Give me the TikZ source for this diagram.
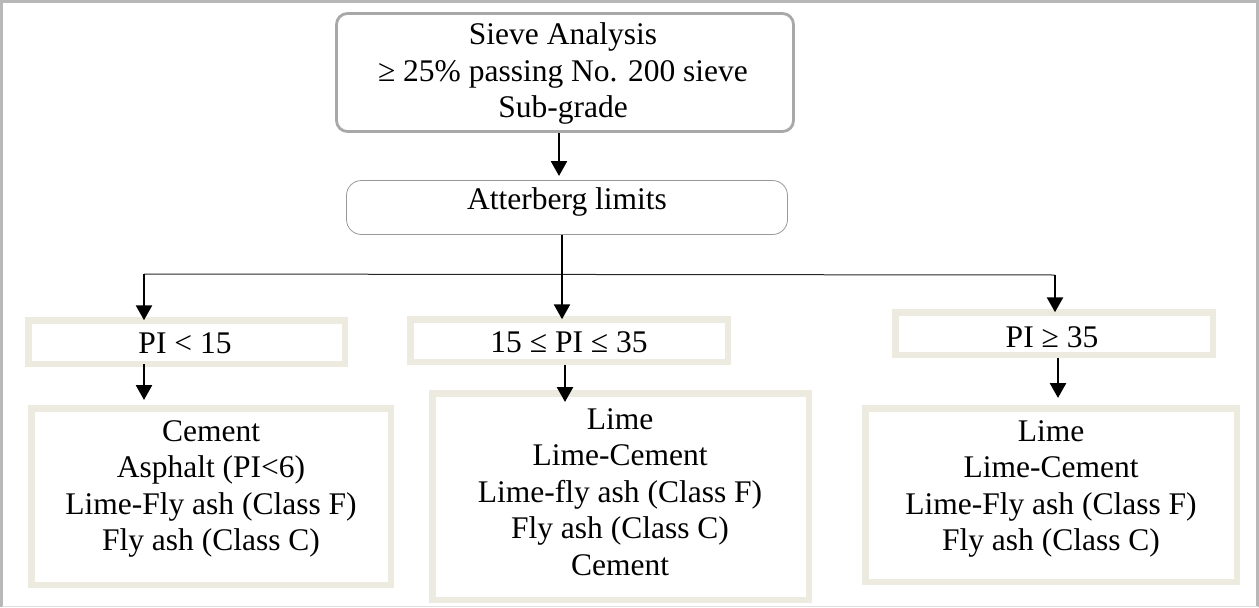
\documentclass[tikz,border=0pt]{standalone}
\usepackage{fontspec}
\setmainfont{Liberation Serif}
\usetikzlibrary{arrows.meta}
\definecolor{beige}{HTML}{EDEADF}
\definecolor{framegray}{HTML}{B8B8B8}
\definecolor{boxgray}{HTML}{A8A8A8}
\begin{document}
\begin{tikzpicture}[x=1pt,y=-1pt,
  every node/.style={font=\fontsize{31.5}{36.5}\selectfont, inner sep=0pt, outer sep=0pt},
  beigebox/.style={draw=beige, line width=6.5pt, fill=white},
  sievebox/.style={draw=boxgray, line width=2.8pt, rounded corners=11pt, fill=white},
  attbox/.style={draw=gray!80, line width=0.8pt, rounded corners=15pt, fill=white},
  txt/.style={align=center},
  arr/.style={line width=2.6pt, -{Triangle[width=16pt,length=15pt]}},
  thinline/.style={line width=1pt, draw=black!85}]
\useasboundingbox (0,0) rectangle (1259,608);
% outer frame
\draw[framegray, line width=2.5pt] (1.5,606.5) -- (1.5,1.5) -- (1257.5,1.5) -- (1257.5,606.5);
\draw[gray!25, line width=1pt] (1.5,606.5) -- (1257.5,606.5);
% boxes
\node[sievebox, minimum width=457pt, minimum height=118pt] (sieve) at (565,72.5) {};
\node[attbox, minimum width=441pt, minimum height=54pt] (att) at (567,207.5) {};
\node[beigebox, minimum width=316.5pt, minimum height=43.5pt] (pi1) at (186.5,342) {};
\node[beigebox, minimum width=317.5pt, minimum height=42.5pt] (pi2) at (569,340.5) {};
\node[beigebox, minimum width=317.5pt, minimum height=42.5pt] (pi3) at (1054,333.5) {};
\node[beigebox, minimum width=359.5pt, minimum height=176.5pt] (b1) at (211,496.5) {};
\node[beigebox, minimum width=376.5pt, minimum height=206.5pt] (b2) at (620.5,496.5) {};
\node[beigebox, minimum width=371.5pt, minimum height=173.5pt] (b3) at (1051,495) {};
% texts
\node[txt] (tsieve) at (563,73.5) {Sieve Analysis\\≥ 25\% passing No. 200 sieve\\Sub-grade};
\node[txt] (tatt) at (567,202) {Atterberg limits};
\node[txt] (tpi1) at (185,343) {PI < 15};
\node[txt] (tpi2) at (569,342) {15 ≤ PI ≤ 35};
\node[txt] (tpi3) at (1052,337) {PI ≥ 35};
\node[txt] (tb1) at (211,489) {Cement\\Asphalt (PI<6)\\Lime-Fly ash (Class F)\\Fly ash (Class C)};
\node[txt] (tb2) at (620,492) {Lime\\Lime-Cement\\Lime-fly ash (Class F)\\Fly ash (Class C)\\Cement};
\node[txt] (tb3) at (1051,489) {Lime\\Lime-Cement\\Lime-Fly ash (Class F)\\Fly ash (Class C)};
% connectors
\coordinate (s1) at (559,133);
\coordinate (a1) at (559,176);
\coordinate (j) at (562,274);
\coordinate (jl) at (144,274);
\coordinate (jr) at (1055,275);
\coordinate (l1) at (144,400);
\coordinate (m1) at (565,365);
\coordinate (m2) at (565,402);
\coordinate (r1) at (1058,358);
\coordinate (r2) at (1058,398);
\draw[arr] (s1) -- (a1);
\draw[thinline] (jl) -- (jr);
\draw[arr] (j |- att.south) -- (j |- pi2.north);
\draw[arr] (jl) -- (jl |- pi1.north);
\draw[arr] (jr) -- (jr |- pi3.north);
\draw[arr] (jl |- pi1.south) -- (l1);
\draw[arr] (m1) -- (m2);
\draw[arr] (r1) -- (r2);
\end{tikzpicture}
\end{document}
